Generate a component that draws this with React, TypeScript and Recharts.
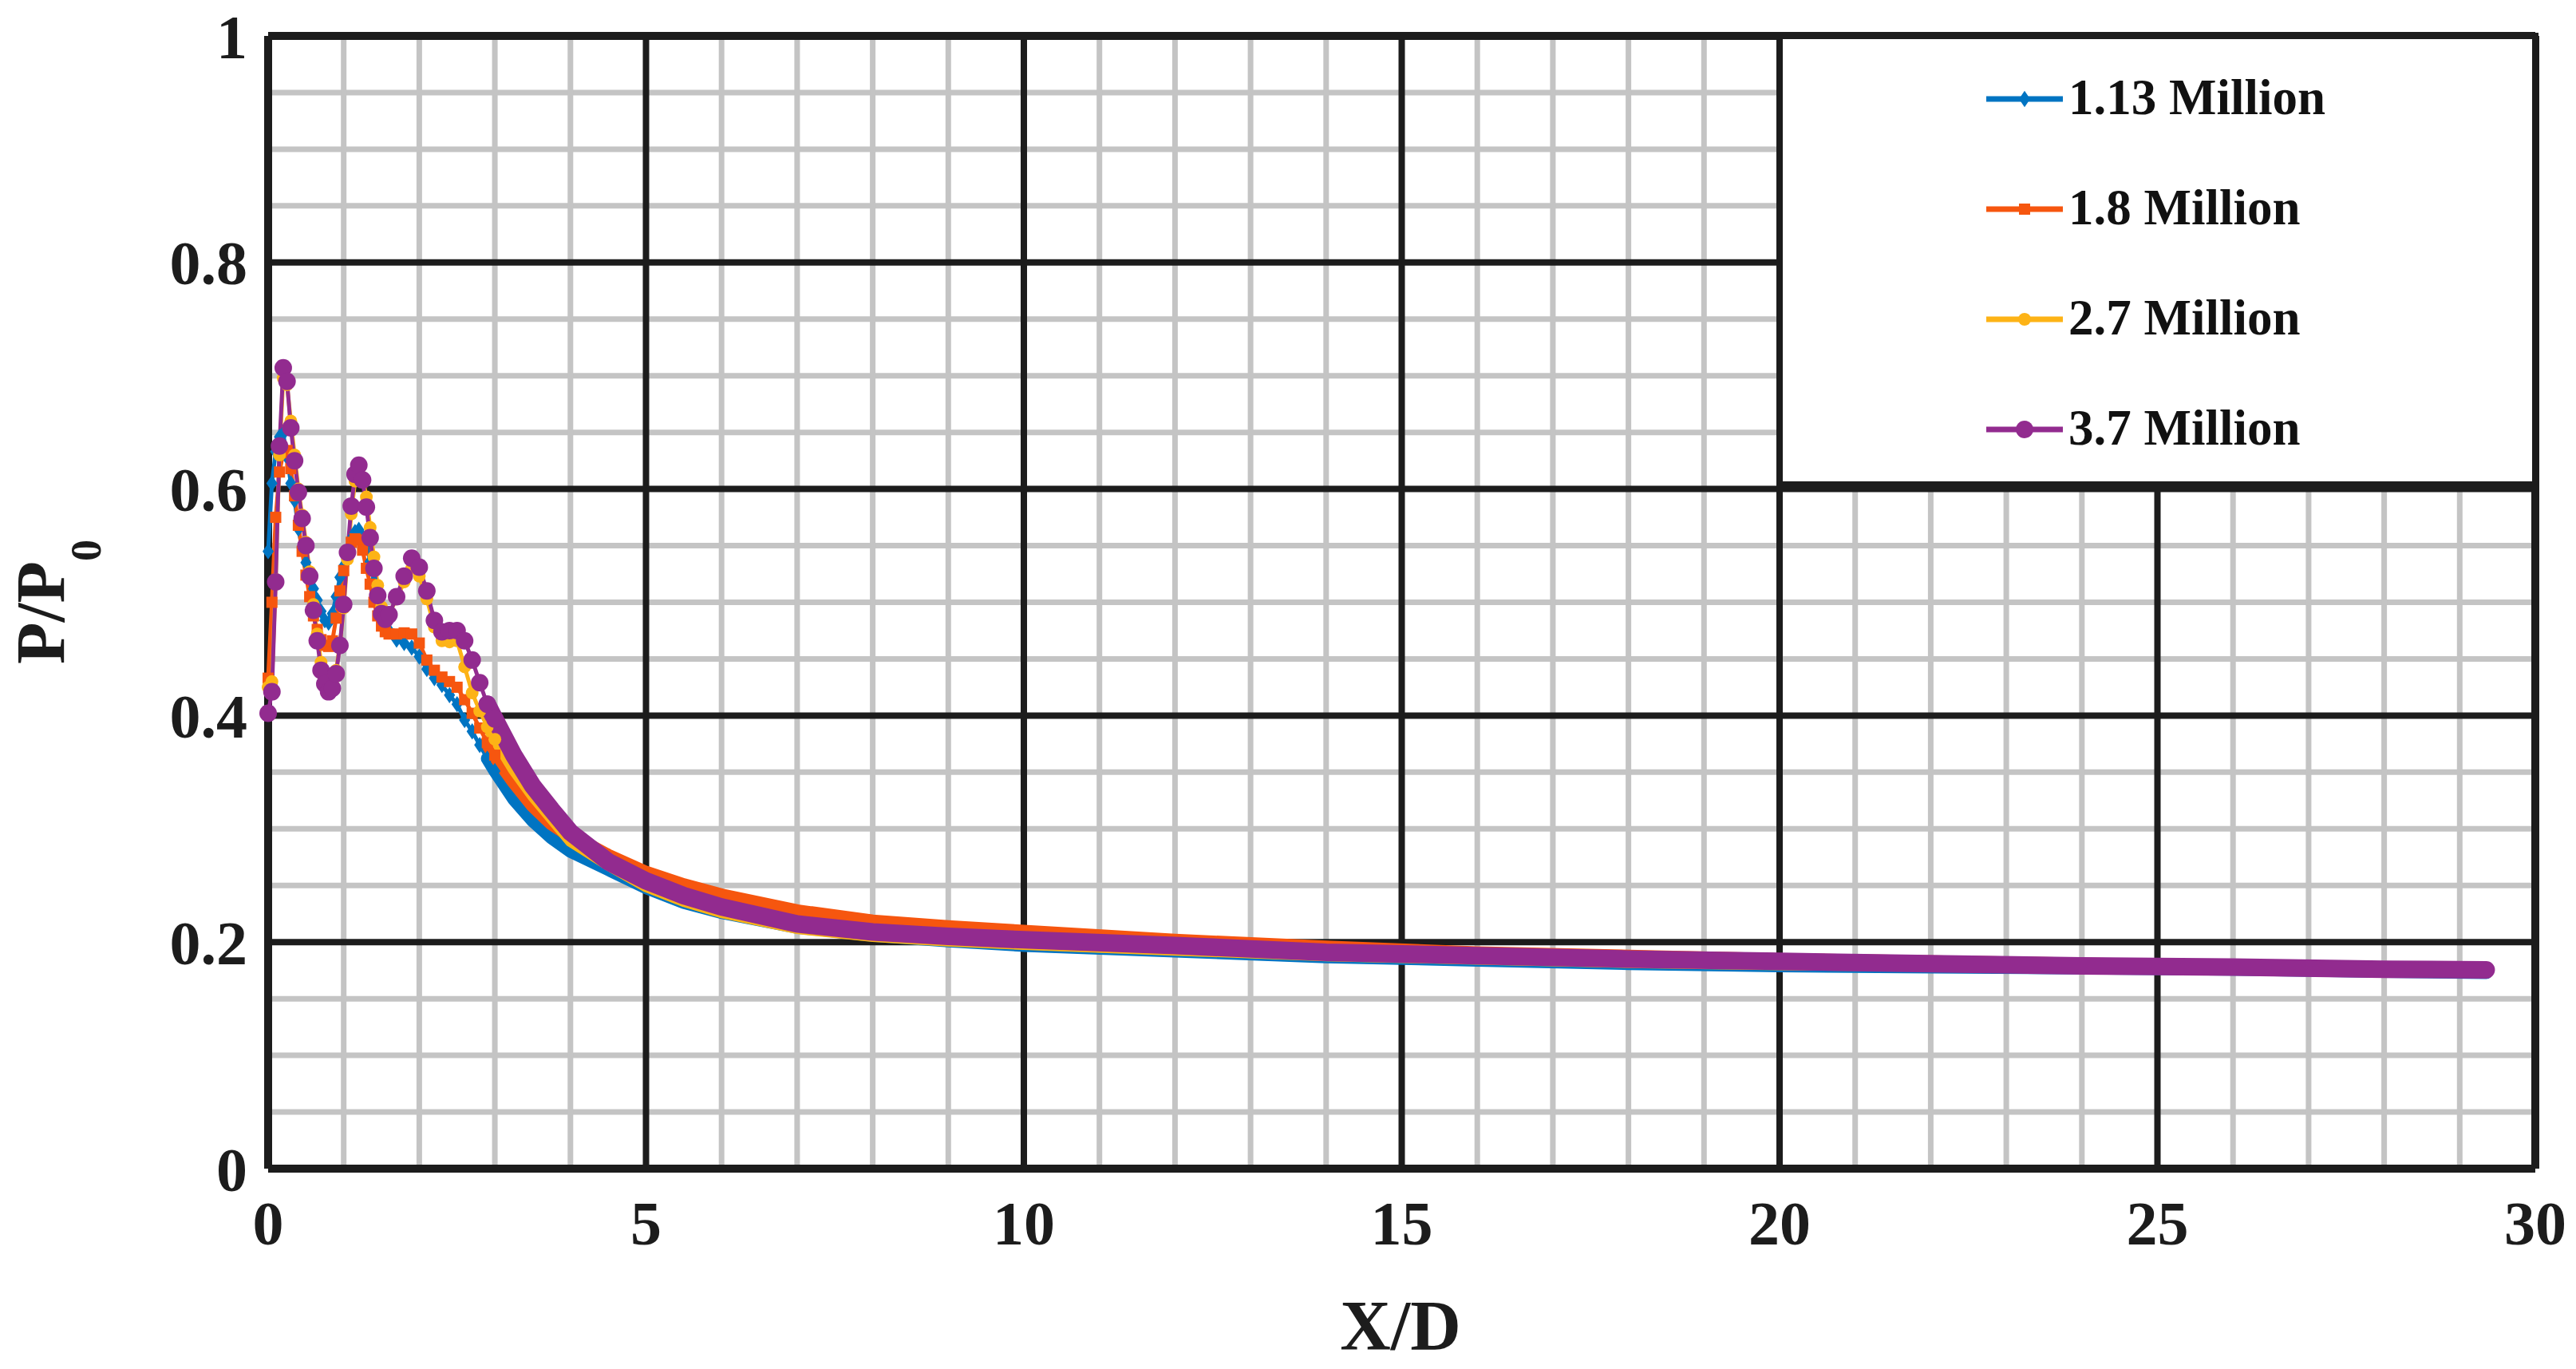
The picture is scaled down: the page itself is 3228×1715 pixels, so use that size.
import { LineChart, Line, XAxis, YAxis, CartesianGrid, ReferenceArea, Legend } from 'recharts'

// X/D stations (dense near the nozzle, coarse further downstream)
const X_D = [
  0, 0.05, 0.1, 0.15, 0.2, 0.25, 0.3, 0.35, 0.4, 0.45, 0.5, 0.55, 0.6, 0.65, 0.7, 0.75, 0.8, 0.85, 0.9, 0.95,
  1.0, 1.05, 1.1, 1.15, 1.2, 1.25, 1.3, 1.35, 1.4, 1.45, 1.5, 1.55, 1.6, 1.7, 1.8, 1.9, 2.0, 2.1, 2.2, 2.3,
  2.4, 2.5, 2.6, 2.7, 2.8, 2.9, 3.0, 3.25, 3.5, 3.75, 4.0, 4.5, 5, 5.5, 6, 7, 8, 9, 10, 12,
  14, 16, 18, 20, 22, 24, 26, 28, 29.35,
]

// P/P0 for each Reynolds number
const RE_113 = [
  0.545, 0.605, 0.633, 0.646, 0.649, 0.628, 0.605, 0.59, 0.565, 0.548, 0.535, 0.523, 0.512, 0.502, 0.492, 0.484, 0.482, 0.49, 0.505, 0.522,
  0.532, 0.545, 0.556, 0.562, 0.564, 0.558, 0.552, 0.536, 0.518, 0.505, 0.492, 0.484, 0.475, 0.467, 0.464, 0.46, 0.452, 0.441, 0.433, 0.427,
  0.418, 0.41, 0.396, 0.386, 0.374, 0.362, 0.351, 0.326, 0.307, 0.292, 0.28, 0.264, 0.248, 0.235, 0.226, 0.213, 0.206, 0.201, 0.197, 0.192,
  0.187, 0.184, 0.181, 0.179, 0.178, 0.177, 0.176, 0.174, 0.173,
]
const RE_180 = [
  0.433, 0.5, 0.575, 0.615, 0.632, 0.634, 0.618, 0.594, 0.568, 0.545, 0.524, 0.505, 0.488, 0.476, 0.467, 0.462, 0.461, 0.466, 0.486, 0.51,
  0.528, 0.545, 0.553, 0.556, 0.555, 0.546, 0.53, 0.516, 0.5, 0.488, 0.479, 0.474, 0.472, 0.472, 0.473, 0.472, 0.464, 0.449, 0.44, 0.434,
  0.43, 0.425, 0.414, 0.402, 0.389, 0.376, 0.365, 0.342, 0.321, 0.305, 0.294, 0.276, 0.261, 0.25, 0.241, 0.227, 0.218, 0.213, 0.209, 0.201,
  0.195, 0.19, 0.187, 0.184, 0.182, 0.18, 0.178, 0.176, 0.175,
]
const RE_270 = [
  0.425, 0.43, 0.52, 0.63, 0.698, 0.692, 0.66, 0.63, 0.6, 0.577, 0.553, 0.527, 0.498, 0.472, 0.447, 0.433, 0.427, 0.428, 0.44, 0.463,
  0.495, 0.538, 0.578, 0.607, 0.617, 0.61, 0.593, 0.566, 0.54, 0.515, 0.496, 0.488, 0.49, 0.503, 0.518, 0.53, 0.523, 0.503, 0.478, 0.466,
  0.465, 0.466, 0.443, 0.42, 0.404, 0.39, 0.379, 0.352, 0.329, 0.309, 0.289, 0.268, 0.249, 0.236, 0.226, 0.212, 0.205, 0.201, 0.198, 0.193,
  0.188, 0.185, 0.182, 0.18, 0.179, 0.178, 0.176, 0.175, 0.174,
]
const RE_370 = [
  0.402, 0.421, 0.518, 0.638, 0.707, 0.695, 0.654, 0.625, 0.597, 0.574, 0.55, 0.523, 0.493, 0.466, 0.44, 0.428, 0.421, 0.424, 0.437, 0.462,
  0.498, 0.544, 0.585, 0.613, 0.621, 0.608, 0.584, 0.557, 0.53, 0.506, 0.49, 0.485, 0.489, 0.505, 0.523, 0.539, 0.531, 0.51, 0.484, 0.474,
  0.475, 0.475, 0.466, 0.449, 0.429, 0.41, 0.397, 0.365, 0.338, 0.317, 0.297, 0.271, 0.254, 0.241, 0.231, 0.216, 0.209, 0.205, 0.202, 0.197,
  0.191, 0.188, 0.185, 0.183, 0.181, 0.179, 0.178, 0.176, 0.1755,
]

const X_TICKS = [0, 5, 10, 15, 20, 25, 30]
const Y_TICKS = [0, 0.2, 0.4, 0.6, 0.8, 1]
const X_MAJOR = [5, 10, 15, 20, 25]
const Y_MAJOR = [0.2, 0.4, 0.6, 0.8]
const X_MINOR = [1, 2, 3, 4, 6, 7, 8, 9, 11, 12, 13, 14, 16, 17, 18, 19, 21, 22, 23, 24, 26, 27, 28, 29]
const Y_MINOR = [0.05, 0.1, 0.15, 0.25, 0.3, 0.35, 0.45, 0.5, 0.55, 0.65, 0.7, 0.75, 0.85, 0.9, 0.95]

const HEAD_END = 3.0   // individual markers visible up to here
const TAIL_START = 2.9 // beyond this the markers merge into a thick band

const FONT = '"Liberation Serif", "Times New Roman", serif'
const INK = '#1c1c1c'

type Marker = 'diamond' | 'square' | 'circle'
const SERIES: { key: string; name: string; values: number[]; color: string; marker: Marker; r: number; band: number }[] = [
  { key: 're113', name: '1.13 Million', values: RE_113, color: '#0074C2', marker: 'diamond', r: 7, band: 16 },
  { key: 're180', name: '1.8 Million', values: RE_180, color: '#F6560F', marker: 'square', r: 7, band: 18 },
  { key: 're270', name: '2.7 Million', values: RE_270, color: '#FDB316', marker: 'circle', r: 8, band: 14 },
  { key: 're370', name: '3.7 Million', values: RE_370, color: '#922B8F', marker: 'circle', r: 11, band: 22 },
]

const data = X_D.map((x, i) => {
  const row: Record<string, number> = { x }
  for (const s of SERIES) row[s.key] = s.values[i]
  return row
})

function markerShape(marker: Marker, cx: number, cy: number, r: number, color: string) {
  if (marker === 'diamond')
    return <polygon points={`${cx},${cy - r * 1.45} ${cx + r},${cy} ${cx},${cy + r * 1.45} ${cx - r},${cy}`} fill={color} />
  if (marker === 'square') return <rect x={cx - r} y={cy - r} width={r * 2} height={r * 2} fill={color} />
  return <circle cx={cx} cy={cy} r={r} fill={color} />
}

function makeDot(s: (typeof SERIES)[number]) {
  return (props: any) => {
    const { cx, cy, payload, index } = props
    const k = `${s.key}-dot-${index}`
    if (cx == null || cy == null || payload == null || payload.x > HEAD_END) return <g key={k} />
    return <g key={k}>{markerShape(s.marker, cx, cy, s.r, s.color)}</g>
  }
}

function LegendBox() {
  return (
    <div style={{ fontFamily: FONT, fontWeight: 'bold', color: '#111' }}>
      {SERIES.map(s => (
        <div key={s.key} style={{ display: 'flex', alignItems: 'center', height: 138 }}>
          <svg width={100} height={40} style={{ display: 'block' }}>
            <line x1={2} y1={20} x2={98} y2={20} stroke={s.color} strokeWidth={7} />
            {markerShape(s.marker, 50, 20, s.r, s.color)}
          </svg>
          <span style={{ fontSize: 63, lineHeight: 1, marginLeft: 5, marginTop: -4 }}>{s.name}</span>
        </div>
      ))}
    </div>
  )
}

function YTitle() {
  return (
    <text transform="translate(80,754) rotate(-90)" textAnchor="middle" fontFamily={FONT} fontWeight="bold" fontSize={86} fill={INK}>
      P/P<tspan fontSize={54} dy={46}>0</tspan>
    </text>
  )
}

function XTitle() {
  return (
    <text x={1755} y={1690} textAnchor="middle" fontFamily={FONT} fontWeight="bold" fontSize={88} fill={INK}>
      X/D
    </text>
  )
}

const tickStyle = { fontFamily: FONT, fontWeight: 'bold', fontSize: 78, fill: INK }

export default function App() {
  return (
    <div style={{ position: 'absolute', left: 0, top: 0, width: 3228, height: 1715, background: '#fff' }}>
      <LineChart width={3228} height={1715} data={data} margin={{ top: 45, right: 51, left: 136, bottom: 101 }}>
        <CartesianGrid stroke="#c4c4c4" strokeWidth={7} verticalValues={X_MINOR} horizontalValues={Y_MINOR} />
        <CartesianGrid stroke={INK} strokeWidth={8} verticalValues={X_MAJOR} horizontalValues={Y_MAJOR} />
        <CartesianGrid stroke={INK} strokeWidth={10} verticalValues={[0, 30]} horizontalValues={[0, 1]} />
        <XAxis
          type="number"
          dataKey="x"
          domain={[0, 30]}
          ticks={X_TICKS}
          axisLine={false}
          tickLine={false}
          tickSize={0}
          tickMargin={40}
          height={150}
          tick={tickStyle}
          label={{ content: () => <XTitle /> }}
        />
        <YAxis
          type="number"
          domain={[0, 1]}
          ticks={Y_TICKS}
          axisLine={false}
          tickLine={false}
          tickSize={0}
          tickMargin={26}
          width={200}
          tick={tickStyle}
          tickFormatter={(v: number) => String(v)}
          label={{ content: () => <YTitle /> }}
        />
        <ReferenceArea x1={20} x2={30} y1={0.604} y2={1} fill="#fff" fillOpacity={1} stroke={INK} strokeWidth={8} />
        {SERIES.flatMap(s => [
          <Line
            key={`${s.key}-band`}
            dataKey={(d: any) => (d.x >= TAIL_START ? d[s.key] : null)}
            stroke={s.color}
            strokeWidth={s.band}
            strokeLinecap="round"
            dot={false}
            activeDot={false}
            legendType="none"
            isAnimationActive={false}
          />,
          <Line
            key={s.key}
            name={s.name}
            dataKey={(d: any) => (d.x <= HEAD_END ? d[s.key] : null)}
            stroke={s.color}
            strokeWidth={5}
            dot={makeDot(s)}
            activeDot={false}
            isAnimationActive={false}
          />,
        ])}
        {/* zero-height wrapper so the legend reserves no room below the plot */}
        <Legend
          content={() => <LegendBox />}
          wrapperStyle={{ position: 'absolute', left: 2487, top: 55, width: 620, height: 0, overflow: 'visible' }}
        />
      </LineChart>
    </div>
  )
}
